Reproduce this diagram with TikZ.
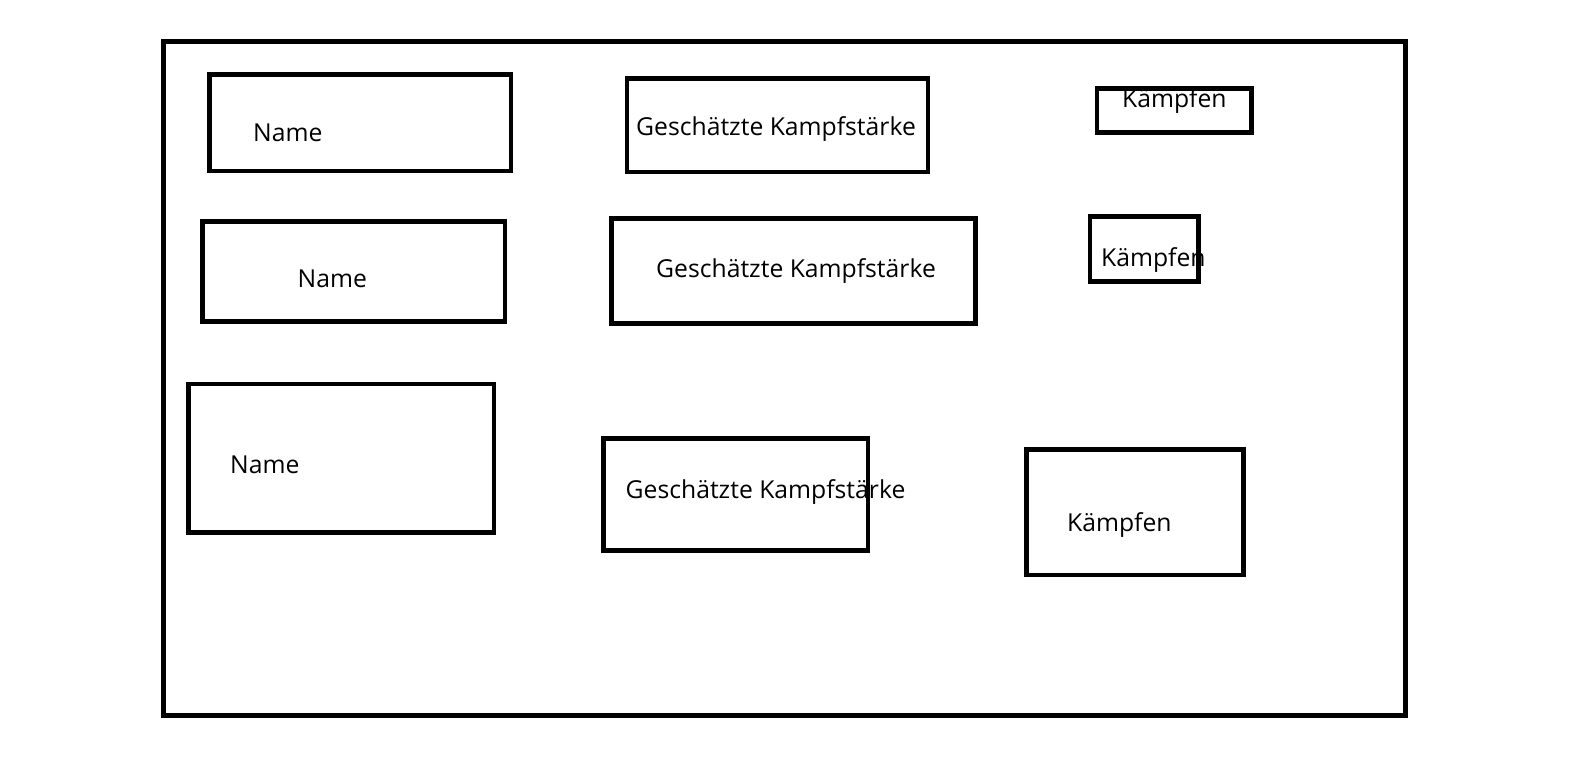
\documentclass[tikz,border=0pt]{standalone}
\usepackage{fontspec}
\setmainfont{Open Sans}
\begin{document}
\begin{tikzpicture}[x=1bp,y=-1bp,
  box/.style={draw=black,line width=4.7bp,rectangle,inner sep=0pt,outer sep=0pt,fill=none},
  lbl/.style={anchor=base west,inner sep=0pt,font=\fontsize{24.8}{30}\selectfont}]
\useasboundingbox (0,0) rectangle (1576,768);
% labels
\node[lbl] (tn1) at (253,141.5) {Name};
\node[lbl] (tg1) at (636,135) {Geschätzte Kampfstärke};
\node[lbl] (tk1) at (1122,107.6) {Kämpfen};
\node[lbl] (tn2) at (297.5,287.5) {Name};
\node[lbl] (tg2) at (656,277.5) {Geschätzte Kampfstärke};
\node[lbl] (tk2) at (1101,266.4) {Kämpfen};
\node[lbl] (tn3) at (230,473.4) {Name};
\node[lbl] (tg3) at (625.5,498.6) {Geschätzte Kampfstärke};
\node[lbl] (tk3) at (1067,531.7) {Kämpfen};
% boxes
\node[box,minimum width=1242bp,minimum height=674bp] (outer) at (784.4,378.5) {};
\node[box,minimum width=301.5bp,minimum height=96.5bp] (n1) at (360.3,122.7) {};
\node[box,minimum width=301bp,minimum height=93.5bp] (g1) at (777.5,125.2) {};
\node[box,minimum width=154.8bp,minimum height=44.2bp] (k1) at (1174.3,110.6) {};
\node[box,minimum width=302.5bp,minimum height=100.5bp] (n2) at (353.8,271.4) {};
\node[box,minimum width=363.8bp,minimum height=105.5bp] (g2) at (793.4,270.9) {};
\node[box,minimum width=108.5bp,minimum height=65.3bp] (k2) at (1144.2,248.8) {};
\node[box,minimum width=305.5bp,minimum height=148.7bp] (n3) at (341.2,458.4) {};
\node[box,minimum width=264.3bp,minimum height=112.6bp] (g3) at (735.7,494.5) {};
\node[box,minimum width=217bp,minimum height=125.6bp] (k3) at (1135.1,512.1) {};
\end{tikzpicture}
\end{document}
